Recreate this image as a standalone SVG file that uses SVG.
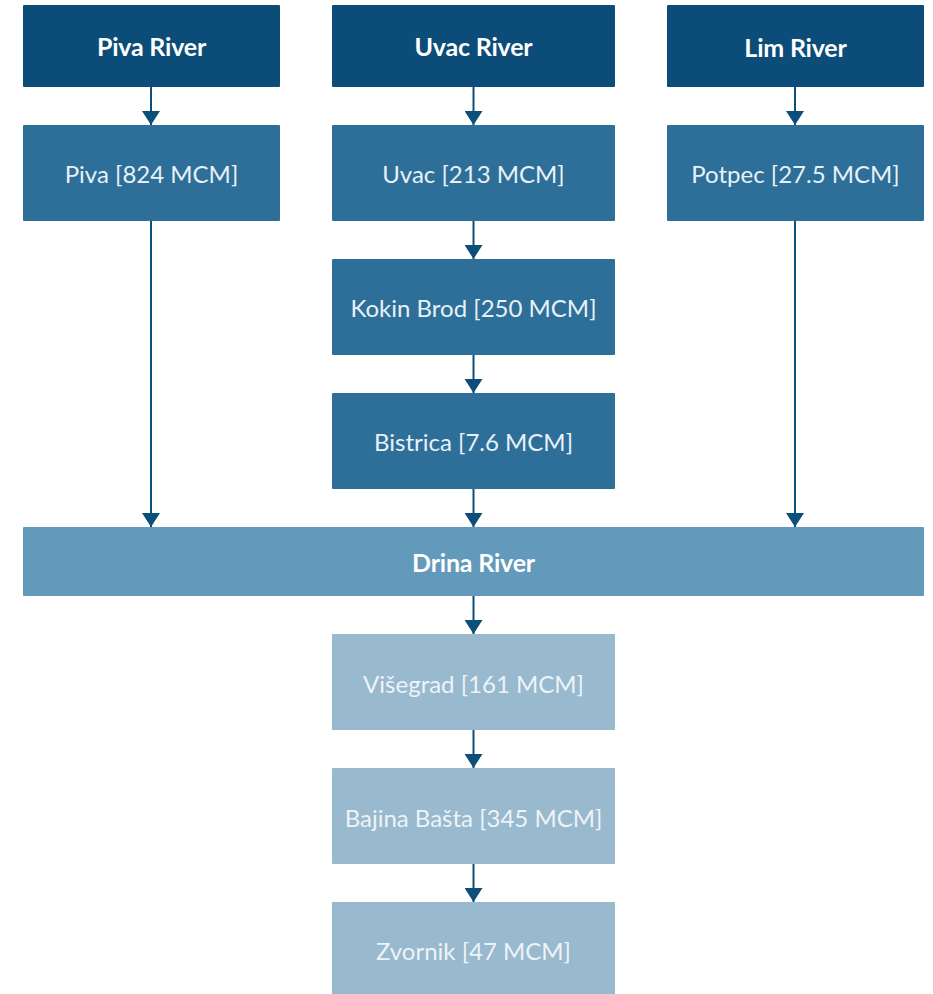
<svg xmlns="http://www.w3.org/2000/svg" width="933" height="994" viewBox="0 0 933 994">
<style>
.h{fill:#0b4d78}
.m{fill:#2d6f98}
.d{fill:#6399ba}
.l{fill:#98b9ce}
text{font-family:Lato,"Noto Sans",sans-serif;text-anchor:middle;dominant-baseline:central}
.ht{font-weight:bold;font-size:25px;fill:#ffffff;letter-spacing:-0.2px}
.mt{font-size:24px;fill:#e8f1f7}
.lt{font-size:24px;fill:#eef3f7}
.c{stroke:#0d4f7b;stroke-width:2;fill:none}
</style>
<defs>
<marker id="a" viewBox="0 0 14 18" refX="14" refY="9" markerWidth="14" markerHeight="18" markerUnits="userSpaceOnUse" orient="auto">
<path d="M0,0 L14,9 L0,18 z" fill="#0d4f7b"/>
</marker>
</defs>
<g id="connectors">
<line class="c" x1="151" y1="87" x2="151" y2="125" marker-end="url(#a)"/>
<line class="c" x1="473.5" y1="87" x2="473.5" y2="125" marker-end="url(#a)"/>
<line class="c" x1="795" y1="87" x2="795" y2="125" marker-end="url(#a)"/>
<line class="c" x1="473.5" y1="221" x2="473.5" y2="259" marker-end="url(#a)"/>
<line class="c" x1="473.5" y1="355" x2="473.5" y2="393" marker-end="url(#a)"/>
<line class="c" x1="151" y1="221" x2="151" y2="527" marker-end="url(#a)"/>
<line class="c" x1="473.5" y1="489" x2="473.5" y2="527" marker-end="url(#a)"/>
<line class="c" x1="795" y1="221" x2="795" y2="527" marker-end="url(#a)"/>
<line class="c" x1="473.5" y1="596" x2="473.5" y2="634" marker-end="url(#a)"/>
<line class="c" x1="473.5" y1="730" x2="473.5" y2="768" marker-end="url(#a)"/>
<line class="c" x1="473.5" y1="864" x2="473.5" y2="902" marker-end="url(#a)"/>
</g>
<g id="piva-river"><rect class="h" x="23" y="5" width="257" height="82" rx="1"/><text class="ht" x="151.5" y="46">Piva River</text></g>
<g id="uvac-river"><rect class="h" x="332" y="5" width="283" height="82" rx="1"/><text class="ht" x="473.5" y="46">Uvac River</text></g>
<g id="lim-river"><rect class="h" x="667" y="5" width="257" height="82" rx="1"/><text class="ht" x="795.5" y="47">Lim River</text></g>
<g id="piva"><rect class="m" x="23" y="125" width="257" height="96" rx="1"/><text class="mt" x="151.5" y="173">Piva [824 MCM]</text></g>
<g id="uvac"><rect class="m" x="332" y="125" width="283" height="96" rx="1"/><text class="mt" x="473.5" y="173">Uvac [213 MCM]</text></g>
<g id="potpec"><rect class="m" x="667" y="125" width="257" height="96" rx="1"/><text class="mt" x="795.5" y="173">Potpec [27.5 MCM]</text></g>
<g id="kokin-brod"><rect class="m" x="332" y="259" width="283" height="96" rx="1"/><text class="mt" x="473.5" y="307">Kokin Brod [250 MCM]</text></g>
<g id="bistrica"><rect class="m" x="332" y="393" width="283" height="96" rx="1"/><text class="mt" x="473.5" y="441">Bistrica [7.6 MCM]</text></g>
<g id="drina-river"><rect class="d" x="23" y="527" width="901" height="69" rx="1"/><text class="ht" x="473.5" y="562">Drina River</text></g>
<g id="visegrad"><rect class="l" x="332" y="634" width="283" height="96" rx="1"/><text class="lt" x="473.5" y="683">Višegrad [161 MCM]</text></g>
<g id="bajina-basta"><rect class="l" x="332" y="768" width="283" height="96" rx="1"/><text class="lt" x="473.5" y="817">Bajina Bašta [345 MCM]</text></g>
<g id="zvornik"><rect class="l" x="332" y="902" width="283" height="96" rx="1"/><text class="lt" x="473.5" y="950">Zvornik [47 MCM]</text></g>
</svg>
